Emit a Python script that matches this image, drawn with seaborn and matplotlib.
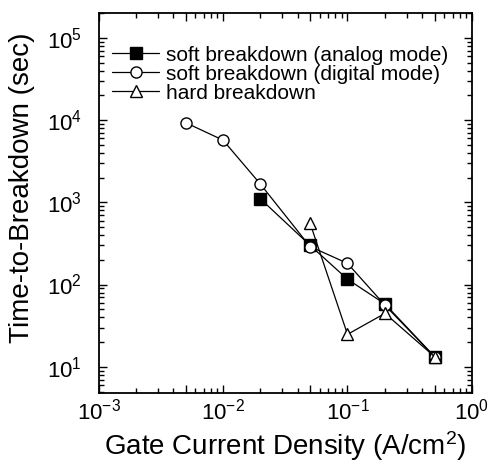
import matplotlib
matplotlib.use("Agg")
import matplotlib.pyplot as plt
import matplotlib.ticker as mticker
import numpy as np
import pandas as pd
import seaborn as sns

# Gate current density (A/cm^2) and time-to-breakdown (s) for each mode
analog_j = [0.02, 0.05, 0.1, 0.2, 0.5]
analog_t = [1100, 300, 116, 58, 13.3]

digital_j = [0.005, 0.01, 0.02, 0.05, 0.1, 0.2, 0.5]
digital_t = [9300, 5700, 1660, 290, 181, 56, 13.3]

hard_j = [0.05, 0.1, 0.2, 0.5]
hard_t = [560, 24.8, 44.6, 13.3]

labels = ["soft breakdown (analog mode)",
          "soft breakdown (digital mode)",
          "hard breakdown"]

sns.set_theme(style="ticks")
plt.rcParams["font.family"] = ["Liberation Sans", "DejaVu Sans"]
plt.rcParams["mathtext.fontset"] = "custom"
plt.rcParams["mathtext.rm"] = "Liberation Sans"
plt.rcParams["mathtext.it"] = "Liberation Sans:italic"
plt.rcParams["mathtext.bf"] = "Liberation Sans:bold"
plt.rcParams["axes.unicode_minus"] = False
for key in ("text.color", "axes.labelcolor", "xtick.color", "ytick.color",
            "xtick.labelcolor", "ytick.labelcolor", "axes.edgecolor"):
    plt.rcParams[key] = "black"

fig = plt.figure(figsize=(4.96, 4.65), dpi=100)
ax = fig.add_axes([0.1986, 0.1548, 0.7530, 0.8172])

series = [
    (analog_j, analog_t, labels[0], "s", "black"),
    (digital_j, digital_t, labels[1], "o", "white"),
    (hard_j, hard_t, labels[2], "^", "white"),
]
for j, t, lab, mk, face in series:
    df = pd.DataFrame({"J": j, "T": t})
    sns.lineplot(data=df, x="J", y="T", ax=ax, sort=False, estimator=None,
                 color="black", linewidth=0.9, marker=mk, markersize=8,
                 markerfacecolor=face, markeredgecolor="black",
                 markeredgewidth=1.0, label=lab)

ax.set_xscale("log")
ax.set_yscale("log")
ax.set_xlim(1e-3, 1)
ax.set_ylim(4.8, 2.0e5)

ax.xaxis.set_major_locator(mticker.LogLocator(base=10, subs=(1.0, 5.0)))
ax.xaxis.set_major_formatter(mticker.LogFormatterSciNotation(labelOnlyBase=True))
ax.xaxis.set_minor_locator(mticker.LogLocator(base=10, subs=(2, 3, 4, 6, 7, 8, 9)))
ax.xaxis.set_minor_formatter(mticker.NullFormatter())
ax.yaxis.set_major_locator(mticker.LogLocator(base=10, numticks=10))
ax.yaxis.set_major_formatter(mticker.LogFormatterSciNotation())
ax.yaxis.set_minor_locator(mticker.LogLocator(base=10, subs=np.arange(2, 10), numticks=10))
ax.yaxis.set_minor_formatter(mticker.NullFormatter())

ax.tick_params(which="both", direction="in", top=True, right=True,
               color="black", labelcolor="black", labelsize=16, width=1.0)
ax.tick_params(which="major", length=6)
ax.tick_params(which="minor", length=3.5)
ax.tick_params(axis="x", which="major", pad=4)
ax.tick_params(axis="y", which="major", pad=12)

for sp in ax.spines.values():
    sp.set_linewidth(1.3)
    sp.set_color("black")

ax.set_xlabel("Gate Current Density (A/cm$^2$)", fontsize=20, color="black")
ax.set_ylabel("Time-to-Breakdown (sec)", fontsize=20, color="black")
ax.xaxis.set_label_coords(0.5, -0.095)
ax.yaxis.set_label_coords(-0.17, 0.54)

leg = ax.legend(loc="upper left", bbox_to_anchor=(0.035, 0.914), frameon=False,
                fontsize=15, handlelength=2.3, handletextpad=0.3,
                labelspacing=0.0, borderpad=0, borderaxespad=0)
for txt in leg.get_texts():
    txt.set_color("black")

fig.savefig("out.png", dpi=100, facecolor="white")
